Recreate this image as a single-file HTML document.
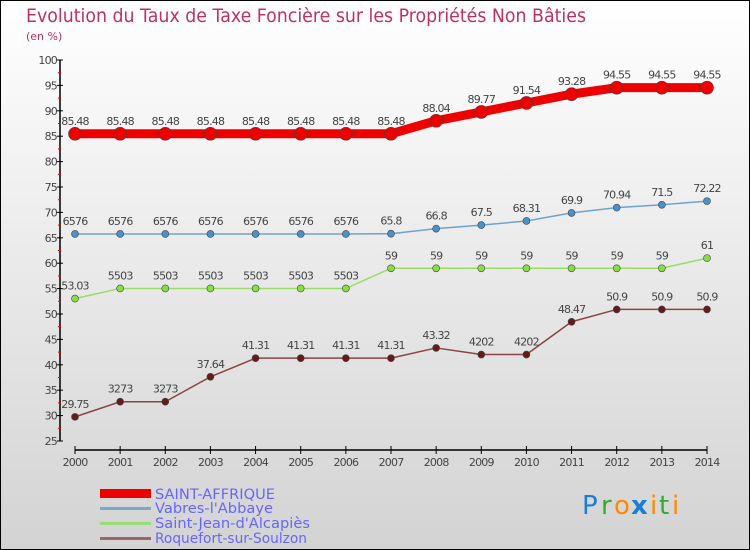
<!DOCTYPE html>
<html><head><meta charset="utf-8"><style>
body{margin:0;}
#c{width:750px;height:550px;position:relative;overflow:hidden;}
svg text{font-family:"DejaVu Sans","Liberation Sans",sans-serif;}
</style></head><body>
<div id="c">
<svg id="s" width="750" height="550" xmlns="http://www.w3.org/2000/svg">
<defs><linearGradient id="bg" x1="0" y1="0" x2="0" y2="1"><stop offset="0" stop-color="#ffffff"/><stop offset="1" stop-color="#d3d3d3"/></linearGradient></defs>
<rect x="0.5" y="0.5" width="749" height="549" fill="url(#bg)" stroke="#000"/>
<text x="26" y="22" font-size="19" fill="#c0315f" textLength="560" lengthAdjust="spacingAndGlyphs">Evolution du Taux de Taxe Foncière sur les Propriétés Non Bâties</text>
<text x="26" y="40" font-size="11" fill="#c0315f">(en %)</text>
<g id="axes"></g><g id="series"></g>
<g>
<rect x="100" y="489" width="51" height="9" fill="#ee0000"/>
<text x="155" y="499" font-size="14" fill="#6666ff" textLength="120" lengthAdjust="spacingAndGlyphs">SAINT-AFFRIQUE</text>
<rect x="100" y="507" width="51" height="3" fill="#7aa7cc"/>
<text x="155" y="513" font-size="14" fill="#6666ff" textLength="118" lengthAdjust="spacingAndGlyphs">Vabres-l'Abbaye</text>
<rect x="100" y="522" width="51" height="3" fill="#99dd77"/>
<text x="155" y="528" font-size="14" fill="#6666ff" textLength="155" lengthAdjust="spacingAndGlyphs">Saint-Jean-d'Alcapiès</text>
<rect x="100" y="537" width="51" height="3" fill="#996666"/>
<text x="155" y="543" font-size="14" fill="#6666ff" textLength="152" lengthAdjust="spacingAndGlyphs">Roquefort-sur-Soulzon</text>
</g>
<g font-size="26" font-family="'DejaVu Sans',sans-serif">
<text x="582" y="514" fill="#1a7fd4">P</text><text x="601" y="514" fill="#33aa33">r</text><text x="614" y="514" fill="#ff8800">o</text><text x="631" y="514" fill="#1a7fd4" font-weight="bold">x</text><text x="650" y="514" fill="#ff8800">i</text><text x="659" y="514" fill="#33aa33">t</text><text x="672" y="514" fill="#ff8800">i</text>
</g>
</svg></div>
<script>
const years=[2000,2001,2002,2003,2004,2005,2006,2007,2008,2009,2010,2011,2012,2013,2014];
const yTicks=[25,30,35,40,45,50,55,60,65,70,75,80,85,90,95,100];
const saintAffrique=[85.48,85.48,85.48,85.48,85.48,85.48,85.48,85.48,88.04,89.77,91.54,93.28,94.55,94.55,94.55];
const saintAffriqueLabels=["85.48","85.48","85.48","85.48","85.48","85.48","85.48","85.48","88.04","89.77","91.54","93.28","94.55","94.55","94.55"];
const vabres=[65.76,65.76,65.76,65.76,65.76,65.76,65.76,65.8,66.8,67.5,68.31,69.9,70.94,71.5,72.22];
const vabresLabels=["6576","6576","6576","6576","6576","6576","6576","65.8","66.8","67.5","68.31","69.9","70.94","71.5","72.22"];
const saintJean=[53.03,55.03,55.03,55.03,55.03,55.03,55.03,59,59,59,59,59,59,59,61];
const saintJeanLabels=["53.03","5503","5503","5503","5503","5503","5503","59","59","59","59","59","59","59","61"];
const roquefort=[29.75,32.73,32.73,37.64,41.31,41.31,41.31,41.31,43.32,42.02,42.02,48.47,50.9,50.9,50.9];
const roquefortLabels=["29.75","3273","3273","37.64","41.31","41.31","41.31","41.31","43.32","4202","4202","48.47","50.9","50.9","50.9"];
const NS="http://www.w3.org/2000/svg";
const xS=i=>75+i*(707-75)/(years.length-1);
const yS=v=>441-(v-25)*(441-60)/75;
function mk(t,a,p){const e=document.createElementNS(NS,t);for(const k in a)e.setAttribute(k,a[k]);p.appendChild(e);return e;}
const ax=document.getElementById('axes');
const yl=mk('line',{x1:60,y1:60,x2:60,y2:441,stroke:'#000','stroke-width':1.5},ax);


yTicks.forEach(v=>{
  mk('line',{x1:57,x2:63,y1:yS(v),y2:yS(v),stroke:'#000'},ax);
  if(v<100){mk('line',{x1:58,x2:61,y1:yS(v+2.5),y2:yS(v+2.5),stroke:'#e00'},ax);}
  const t=mk('text',{x:57,y:yS(v)+4,'font-size':11,'text-anchor':'end',fill:'#444','letter-spacing':'-0.8'},ax);
  
  
  t.textContent=v;
});
const xl=mk('line',{x1:75,y1:450,x2:707,y2:450,stroke:'#000','stroke-width':1.5},ax);


years.forEach((y,i)=>{
  mk('line',{x1:xS(i),x2:xS(i),y1:446,y2:454,stroke:'#000'},ax);
  const t=mk('text',{x:xS(i),y:466,'font-size':11,'text-anchor':'middle',fill:'#444','letter-spacing':'-0.8'},ax);
  
  
  t.textContent=y;
});
const sg=document.getElementById('series');
function series(name,vals,labels,color,w,r,dot){
  const g=mk('g',{},sg);
  
  
  const p=mk('polyline',{points:vals.map((v,i)=>xS(i)+','+yS(v)).join(' '),fill:'none',stroke:color,'stroke-width':w,'stroke-linejoin':'round'},g);
  
  
  vals.forEach((v,i)=>{
    const c=mk('circle',{cx:xS(i),cy:yS(v),r:r,fill:dot,stroke:'#444','stroke-width':0.6},g);
    
    
    const t=mk('text',{x:xS(i),y:yS(v)-9,'font-size':11,'text-anchor':'middle',fill:'#444','letter-spacing':'-0.8'},g);
    
    
    t.textContent=labels[i];
  });
}
series('saint-affrique',saintAffrique,saintAffriqueLabels,'#ee0000',9,6.5,'#ee0000');
series('vabres',vabres,vabresLabels,'#6fa3cf',1.5,3.5,'#4a90c9');
series('saint-jean',saintJean,saintJeanLabels,'#99dd66',1.5,3.5,'#88dd44');
series('roquefort',roquefort,roquefortLabels,'#8a4444',1.5,3.5,'#661a1a');
</script>
</body></html>
